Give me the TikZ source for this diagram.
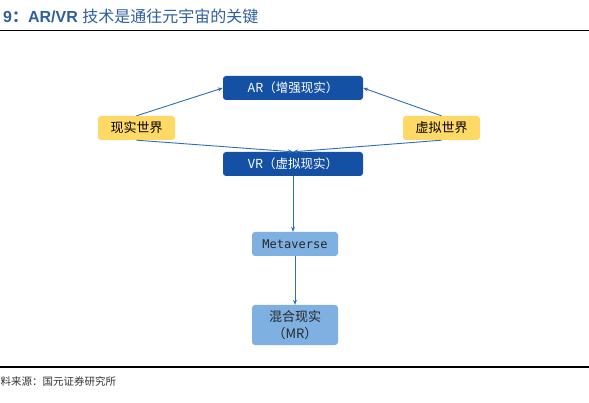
\documentclass[tikz,border=0pt]{standalone}
\usepackage{fontspec}
\setmainfont{Liberation Sans}
\newfontfamily\cjk{Noto Sans CJK SC}
\newfontfamily\monofam{DejaVu Sans Mono}
\usetikzlibrary{positioning,arrows.meta}
\definecolor{ndark}{HTML}{1450A3}
\definecolor{nyellow}{HTML}{FFD966}
\definecolor{nlight}{HTML}{7FB0E2}
\definecolor{narrow}{HTML}{2F6DB8}
\definecolor{ntitle}{HTML}{2D5F9E}
\tikzset{
 darkbox/.style={fill=ndark, text=white, rounded corners=3pt, minimum width=140pt, minimum height=24pt, inner sep=0pt, font=\cjk\fontsize{12.5}{14}\selectfont},
 worldbox/.style={fill=nyellow, text=black, rounded corners=3pt, minimum width=77pt, minimum height=24pt, inner sep=0pt, font=\cjk\fontsize{13}{15}\selectfont},
 metabox/.style={fill=nlight, text=black!85, rounded corners=3pt, minimum width=86pt, inner sep=0pt, align=center, font=\cjk\fontsize{13}{17}\selectfont},
 flow/.style={-{Stealth[length=5pt,width=4pt]}, narrow, line width=0.9pt}
}
\begin{document}
\begin{tikzpicture}[x=1pt,y=-1pt]
 \useasboundingbox (0,0) rectangle (589,403);
 % title and rules
 \node[anchor=west, inner sep=0pt, text=ntitle] (title) at (3,16)
  {\fontsize{16}{18}\selectfont\bfseries 9{\cjk ：}AR/VR {\cjk\mdseries 技术是通往元宇宙的关键}};
 \draw[line width=1.4pt] (0,30.5) -- (589,30.5);
 \draw[line width=1.8pt] (0,367) -- (589,367);
 \node[anchor=west, inner sep=0pt, text=black!80] (source) at (0.5,381)
  {\cjk\fontsize{10.5}{12}\selectfont 料来源：国元证券研究所};
 % boxes
 \node[darkbox] (ar) at (293,88) {AR（增强现实）};
 \node[darkbox] (vr) at (293,164) {VR（虚拟现实）};
 \node[worldbox] (real) at (136.5,128) {现实世界};
 \node[worldbox] (virt) at (441.5,128) {虚拟世界};
 \node[metabox, minimum height=24pt] (meta) at (295,244) {\monofam\fontsize{12}{14}\selectfont Metaverse};
 \node[metabox, minimum height=40pt] (mr) at (295,325) {混合现实\\（MR）};
 % arrows
 \draw[flow] (real.north) -- (ar.west);
 \draw[flow] (virt.north) -- (ar.east);
 \draw[flow] (real.south) -- (vr.north);
 \draw[flow] (virt.south) -- (vr.north);
 \draw[flow] (vr.south) -- (vr.south |- meta.north);
 \draw[flow] (meta.south) -- (mr.north);
\end{tikzpicture}
\end{document}
